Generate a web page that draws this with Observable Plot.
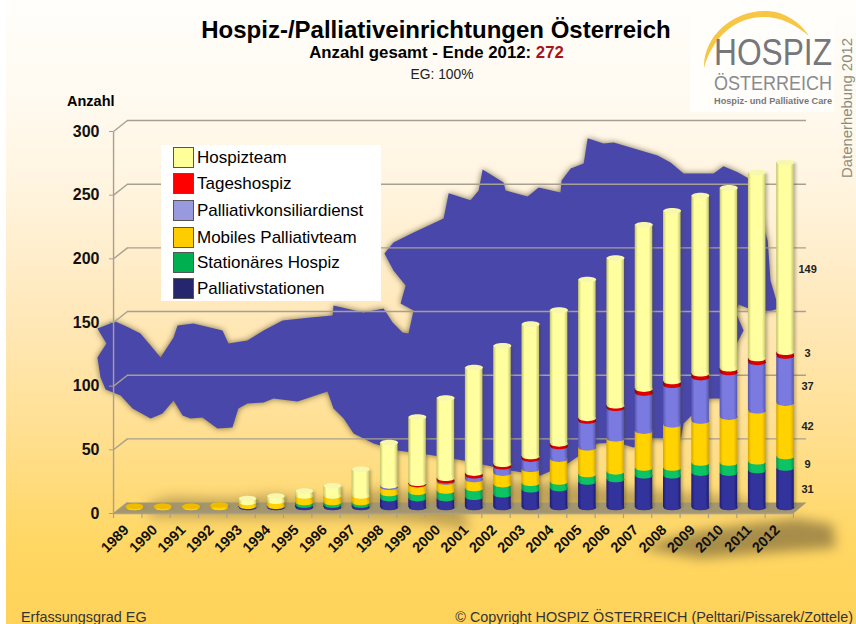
<!DOCTYPE html>
<html lang="de">
<head>
<meta charset="utf-8">
<title>Hospiz-/Palliativeinrichtungen Österreich</title>
<script src="https://cdn.jsdelivr.net/npm/d3@7"></script>
<script src="https://cdn.jsdelivr.net/npm/@observablehq/plot@0.6"></script>
<style>
html,body{margin:0;padding:0;background:#fff;}
#page{position:relative;width:856px;height:624px;overflow:hidden;font-family:"Liberation Sans",Arial,sans-serif;color:#000;}
#bg{position:absolute;left:6px;top:0;right:0;bottom:0;background:linear-gradient(#fffefb 0,#fffaf0 100px,#fff3dc 200px,#ffe8b8 320px,#ffdf8e 440px,#ffd764 540px,#ffd359 624px);}
#head{position:relative;height:90px;text-align:center;}
#head h1{position:absolute;left:0;width:872px;top:16px;margin:0;font-size:24px;line-height:28px;font-weight:700;}
#head h2{position:absolute;left:0;width:873px;top:44px;margin:0;font-size:16.8px;line-height:18px;font-weight:700;}
#head h2 span{color:#a8141c;}
#head p{position:absolute;left:0;width:884px;top:67px;margin:0;font-size:13.8px;line-height:16px;color:#222;}
#anzahl{position:absolute;left:67px;top:92px;font-size:14.5px;font-weight:700;line-height:18px;}
#chart{position:relative;height:518px;}
#chart svg{display:block;overflow:visible;background:transparent;}
.m-map{filter:drop-shadow(0 0 3px rgba(90,80,40,.8));}
.m-shadow{filter:blur(6px);}
.m-bars{filter:drop-shadow(2px 1px 1.5px rgba(70,70,40,.35));}
#legend{position:absolute;left:161px;top:145px;width:220px;height:156px;background:#fff;}
.row{position:absolute;left:12px;display:flex;align-items:center;height:21px;font-size:17px;white-space:nowrap;}
.sw{width:19px;height:19px;border:1px solid #555;margin-right:3px;box-sizing:content-box;}
#logo{position:absolute;left:0;top:0;overflow:visible;}
#foot{position:relative;height:16px;font-size:14.4px;line-height:16px;color:#333;}
#foot .l{position:absolute;left:21px;top:1px;}
#foot .r{position:absolute;right:3px;top:1px;}
</style>
</head>
<body>
<div id="page">
  <div id="bg"></div>
  <div id="head">
    <h1>Hospiz-/Palliativeinrichtungen Österreich</h1>
    <h2>Anzahl gesamt - Ende 2012: <span>272</span></h2>
    <p>EG: 100%</p>
  </div>
  <div id="chart"></div>
  <div id="foot"><span class="l">Erfassungsgrad EG</span><span class="r">© Copyright HOSPIZ ÖSTERREICH (Pelttari/Pissarek/Zottele)</span></div>
  <svg id="logo" width="856" height="190" xmlns="http://www.w3.org/2000/svg" font-family="Liberation Sans, Arial, sans-serif">
    <rect x="690" y="6" width="144" height="106" fill="#fffefb"/>
    <path d="M704 68 C703 35 735 9 768 11 C785 12 800 22 809 36 C795 24 780 17 763 17 C735 17 712 38 704 68Z" fill="#f6c645"/>
    <text x="714" y="65" font-size="36" fill="#76777b" textLength="118" lengthAdjust="spacingAndGlyphs">HOSPIZ</text>
    <text x="714" y="90" font-size="21" fill="#8a8b8e" textLength="118" lengthAdjust="spacingAndGlyphs">ÖSTERREICH</text>
    <text x="714" y="104" font-size="9.5" font-weight="700" fill="#77787a" textLength="118" lengthAdjust="spacingAndGlyphs">Hospiz- und Palliative Care</text>
    <text transform="translate(852,178) rotate(-90)" font-size="14" fill="#8c8c7e" textLength="140" lengthAdjust="spacingAndGlyphs">Datenerhebung 2012</text>
  </svg>
  <div id="anzahl">Anzahl</div>
  <div id="legend"></div>
</div>
<script>
const years = [1989,1990,1991,1992,1993,1994,1995,1996,1997,1998,1999,2000,2001,2002,2003,2004,2005,2006,2007,2008,2009,2010,2011,2012];
const palliativstationen = [0,0,0,0,1,1,2,2,2,7,7,7,8,10,14,15,20,22,25,25,27,27,29,31];
const stationaeresHospiz = [0,0,0,0,0,0,2,2,2,4,5,6,7,8,5,5,6,6,6,6,8,8,7,9];
const mobilesTeam = [1,1,1,2,3,4,5,5,5,5,6,7,7,9,11,18,21,26,29,34,33,36,40,42];
const konsiliardienst = [0,0,0,0,0,0,0,0,0,1,0,1,3,5,8,10,21,24,30,31,34,35,38,37];
const tageshospiz = [0,0,0,0,0,0,0,0,0,0,1,2,2,2,2,2,2,2,3,3,3,3,3,3];
const hospizteam = [0,0,0,0,3,4,4,8,21,34,52,63,83,93,104,105,109,116,129,134,140,142,146,149];

const seriesNames = ["Palliativstationen","Stationäres Hospiz","Mobiles Palliativteam","Palliativkonsiliardienst","Tageshospiz","Hospizteam"];
const seriesValues = [palliativstationen,stationaeresHospiz,mobilesTeam,konsiliardienst,tageshospiz,hospizteam];
const legendColors = ["#26266f","#00b050","#ffcc00","#9999dd","#ff0000","#ffff99"];
const barEdge = ["#1d1d70","#06904a","#d9a800","#5656b0","#8c0000","#c4c46c"];
const barMid = ["#33339e","#0cc463","#ffd200","#7a7ae0","#dd0000","#ffffa0"];

const yTicks = [0,50,100,150,200,250,300];
const lastLabels = ["31","9","42","37","3","149"];
const lastLabelY = [14,34,64,95,121,187];

// Umriss Österreichs und Schlagschatten, in Achseneinheiten (Jahr, Anzahl)
const mapYear = [1987.69,1988.01,1987.69,1987.80,1987.98,1988.51,1988.93,1989.57,1989.99,1990.38,1990.70,1990.98,1991.40,1991.93,1992.46,1992.67,1992.99,1993.56,1993.91,1994.76,1995.82,1996.03,1996.39,1996.74,1997.45,1998.29,1999.35,2000.63,2002.29,2003.35,2004.30,2005.36,2006.07,2006.63,2007.34,2008.29,2008.40,2009.28,2009.88,2010.24,2010.52,2010.24,2010.34,2010.70,2011.30,2011.76,2011.47,2011.37,2010.70,2010.31,2009.81,2009.46,2008.40,2007.94,2007.48,2005.93,2005.57,2005.01,2004.87,2004.41,2004.09,2004.05,2003.28,2002.89,2002.11,2002.04,2001.30,2001.16,2000.87,2000.10,1999.92,1998.86,1998.15,1997.83,1998.15,1998.58,1998.40,1998.86,1998.68,1998.47,1998.12,1997.80,1997.09,1996.03,1996.00,1995.22,1994.23,1993.56,1992.99,1992.32,1992.11,1991.08,1990.52,1990.38,1989.92,1989.57,1989.21,1988.79,1988.33];
const mapCount = [140.6,128.8,117.8,102.1,92.7,88.0,77.8,69.9,73.8,84.1,72.3,69.9,70.7,62.1,62.8,77.8,81.7,82.5,85.6,83.3,91.1,77.8,69.9,58.1,50.3,44.8,41.6,36.9,29.1,25.1,34.6,50.3,51.1,47.1,54.2,52.6,66.0,85.6,85.6,127.3,139.0,153.2,159.5,156.3,153.2,156.3,178.3,209.7,258.4,263.2,267.9,262.4,262.4,271.0,276.5,286.7,285.9,289.9,270.2,266.3,256.9,247.4,251.4,244.3,249.0,255.3,265.5,249.0,241.2,246.7,227.0,216.0,208.2,199.5,186.2,174.4,160.2,154.8,136.7,137.5,145.3,156.3,153.2,158.7,150.8,149.3,146.9,139.0,131.2,128.8,139.0,144.5,143.0,133.5,117.8,127.3,136.7,141.4,146.1];
const shadowA = {year:[2006.88,2009.0,2011.12,2013.77,2013.66,2012.36,2010.59,2009,2007.59],count:[-32.2,-40,-36.1,-31.4,-13.4,-8.6,-13.4,-18.1,-25.9]};
const shadowB = {year:[1999.11,2000.87,2004.05,2007.23,2010.41,2011.12,1999.11],count:[1.6,21.2,19.6,13.4,7.9,-0.8,-2]};
const shadowC = {year:[1989.46,1990.27,1992.39,1993.81,1995.93,1997.34,1999.46,2000.52,2000.87,1999.11,1996.28,1992.39,1989.57],count:[3.1,8.6,7.1,10.2,5.5,13.4,13.4,5.5,-18.1,-11.8,-8.6,-8.6,-7.9]};

// perspektivische Verschiebung von Vorder- und Rückkante in Achseneinheiten
const frontY = -4.7, backY = 3.9, frontX = 1988.26, backX = 1988.75, backXEnd = 2012.74, frontXEnd = 2012.28;
const halfBar = 0.31;

const cumul = years.map(() => 0);
const segments = [];
seriesValues.forEach((vals, s) => vals.forEach((v, i) => {
  if (v > 0) segments.push({series: s, year: years[i], y1: cumul[i], y2: cumul[i] + v});
  cumul[i] += v;
}));
const totals = years.map((year, i) => ({year, total: cumul[i], team: hospizteam[i] > 0}));

function defsMark() {
  const defs = d3.create("svg:defs");
  seriesValues.forEach((_, s) => {
    const g = defs.append("linearGradient").attr("id", "cyl" + s);
    [[0, barEdge[s]], [0.18, barMid[s]], [0.8, barMid[s]], [1, barEdge[s]]].forEach(([o, c]) =>
      g.append("stop").attr("offset", o).attr("stop-color", c));
  });
  return defs.node();
}
const disc = {draw(ctx) {
  const rx = 8.8, ry = 2.8, kx = rx * 0.5523, ky = ry * 0.5523;
  ctx.moveTo(-rx, 0);
  ctx.bezierCurveTo(-rx, -ky, -kx, -ry, 0, -ry);
  ctx.bezierCurveTo(kx, -ry, rx, -ky, rx, 0);
  ctx.bezierCurveTo(rx, ky, kx, ry, 0, ry);
  ctx.bezierCurveTo(-kx, ry, -rx, ky, -rx, 0);
  ctx.closePath();
}};
const gridColor = "#a7a092";
const tagged = name => function(index, scales, values, dimensions, context, next) {
  const g = next(index, scales, values, dimensions, context);
  g.classList.add(name);
  return g;
};
const shape = (o, fill, extra) => Plot.line(o.year.map((d, i) => i), {x: i => o.year[i], y: i => o.count[i], fill, stroke: "none", ...extra});

const barMarks = [];
seriesValues.forEach((_, s) => {
  const segs = segments.filter(d => d.series === s);
  barMarks.push(Plot.rectY(segs, {x1: d => d.year - halfBar, x2: d => d.year + halfBar, y1: "y1", y2: "y2", fill: `url(#cyl${s})`, inset: 0, render: tagged("m-bars")}));
  barMarks.push(Plot.dot(segs, {x: "year", y: "y1", r: 3, symbol: disc, fill: `url(#cyl${s})`, stroke: "none"}));
});
barMarks.push(Plot.dot(totals.filter(d => d.team), {x: "year", y: "total", r: 3, symbol: disc, fill: "#f7f7ae", stroke: "none"}));
barMarks.push(Plot.dot(totals.filter(d => !d.team), {x: "year", y: "total", r: 3, symbol: disc, fill: "#eebb00", stroke: "none"}));

const plot = Plot.plot({
  width: 856, height: 518,
  marginLeft: 134, marginRight: 71, marginTop: 35, marginBottom: 101,
  style: {background: "transparent", fontFamily: "'Liberation Sans',Arial,sans-serif"},
  x: {domain: [1989, 2012]},
  y: {domain: [0, 300]},
  marks: [
    defsMark,
    shape(shadowA, "#8a7440", {render: tagged("m-shadow"), fillOpacity: 0.75}),
    shape(shadowB, "#8a7440", {render: tagged("m-shadow"), fillOpacity: 0.55}),
    shape(shadowC, "#8a7440", {render: tagged("m-shadow"), fillOpacity: 0.5}),
    shape({year: mapYear, count: mapCount}, "#4a47ab", {render: tagged("m-map")}),
    // Gitter
    Plot.ruleY(yTicks.slice(1), {x1: backX, x2: backXEnd, y: d => d + backY, stroke: gridColor, strokeWidth: 1.4}),
    Plot.link(yTicks, {x1: frontX, x2: backX, y1: d => d + frontY, y2: d => d + backY, stroke: gridColor, strokeWidth: 1.4}),
    Plot.link([0], {x1: frontX, x2: frontX, y1: frontY, y2: 300 + frontY, stroke: gridColor, strokeWidth: 1.4}),
    // Boden
    shape({year: [frontX, backX, backXEnd, frontXEnd], count: [frontY, backY, backY, frontY]}, "#a3966f", {}),
    Plot.link([0], {x1: frontX, x2: frontXEnd, y1: frontY, y2: frontY, stroke: gridColor, strokeWidth: 1.4}),
    Plot.ruleX(d3.range(25), {x: i => frontX + i * (frontXEnd - frontX) / 24, y1: frontY, y2: frontY - 4, stroke: gridColor, strokeWidth: 1.2}),
    // Achsen
    Plot.axisY({ticks: yTicks, anchor: "left", dx: -21, dy: 6, tickSize: 4, tickPadding: 10, stroke: gridColor, fontSize: 16, fontWeight: 700, fill: "#111", label: null}),
    Plot.axisX({ticks: years, tickFormat: String, tickSize: 0, tickRotate: -45, tickPadding: 20, dx: -8, fontSize: 14.5, fontWeight: 700, fill: "#111", label: null}),
    Plot.text(lastLabels, {x: () => 2012.78, y: (d, i) => lastLabelY[i], text: d => d, fontSize: 11, fontWeight: 700, fill: "#222"}),
    // Säulen
    ...barMarks
  ]
});
document.getElementById("chart").appendChild(plot);

const legend = document.getElementById("legend");
const legendRowsTop = [2, 28, 55, 82, 107, 133];
[5,4,3,2,1,0].forEach((s, r) => {
  const row = document.createElement("div");
  row.className = "row";
  row.style.top = legendRowsTop[r] + "px";
  const sw = document.createElement("div");
  sw.className = "sw";
  sw.style.background = legendColors[s];
  row.appendChild(sw);
  row.appendChild(document.createTextNode(seriesNames[s]));
  legend.appendChild(row);
});
</script>
</body>
</html>
